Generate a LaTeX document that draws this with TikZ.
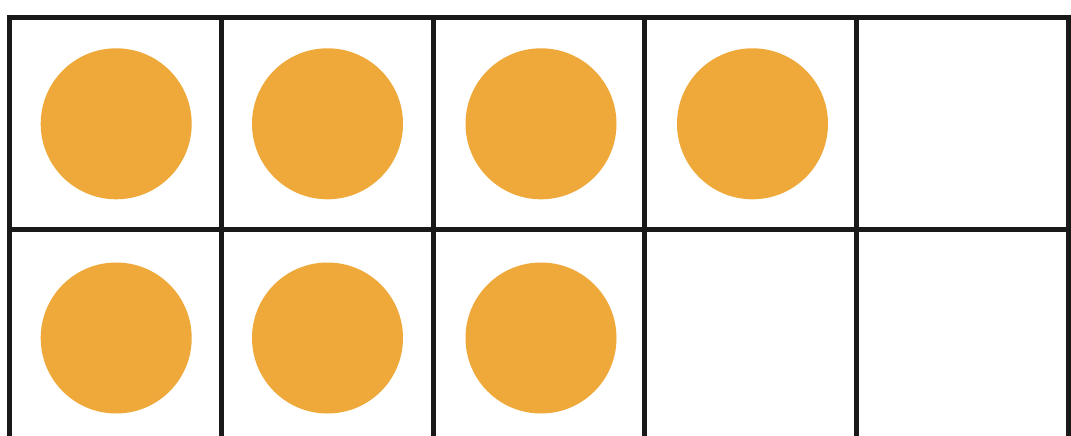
\documentclass[tikz,border=0pt]{standalone}
\definecolor{dot}{HTML}{EEA93A}
\begin{document}
\begin{tikzpicture}[x=1pt,y=-1pt,
  gridline/.style={draw=black!90,line width=5pt},
  counter/.style={circle,fill=dot,minimum size=151pt,inner sep=0pt}]
\useasboundingbox (0,0) rectangle (1071,436);
\clip (0,0) rectangle (1071,436);
\fill[white] (0,0) rectangle (1071,436);
% grid
\foreach \i in {0,...,5} {
  \draw[gridline] ({9.5+211.8*\i},17.5) -- ({9.5+211.8*\i},446);
}
\draw[gridline] (7,17.5) -- (1071,17.5);
\draw[gridline] (7,229.5) -- (1071,229.5);
\draw[gridline] (7,441.5) -- (1071,441.5);
% counters
\node[counter] (c1) at (116.2,123.8) {};
\node[counter] (c2) at (327.5,123.8) {};
\node[counter] (c3) at (541,123.8) {};
\node[counter] (c4) at (752.5,123.8) {};
\node[counter] (c6) at (116.2,338) {};
\node[counter] (c7) at (327.5,338) {};
\node[counter] (c8) at (541,338) {};
\end{tikzpicture}
\end{document}
